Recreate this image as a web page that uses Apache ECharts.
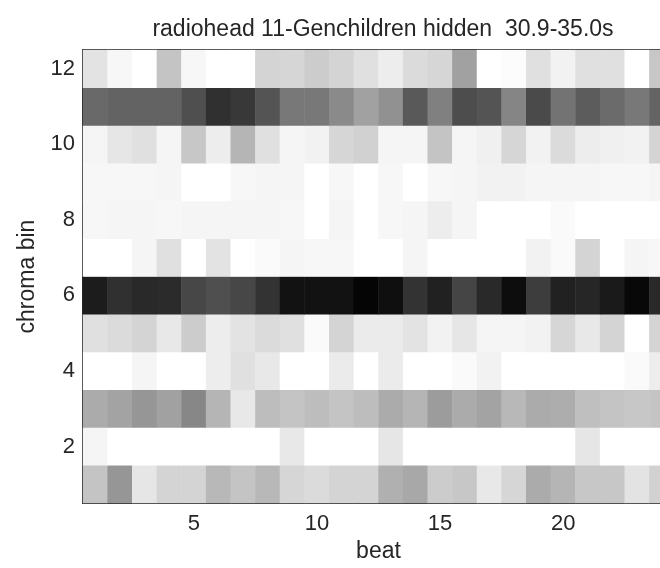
<!DOCTYPE html>
<html>
<head>
<meta charset="utf-8">
<script src="https://cdn.jsdelivr.net/npm/echarts@6/dist/echarts.min.js"></script>
<style>
  html, body { margin: 0; padding: 0; background: #ffffff; overflow: hidden; width: 660px; height: 568px; }
  /* the drawing surface is a little wider than the window, so the plot box runs off the right edge */
  #chart { width: 690px; height: 568px; }
</style>
</head>
<body>
<div id="chart"></div>
<script>
// Beat-synchronous chroma: 24 beats x 12 chroma bins, energy 0 (white) .. 1 (black)
const beats = Array.from({ length: 24 }, (_, i) => i + 1);
const bins = Array.from({ length: 12 }, (_, i) => i + 1);

const bin1  = [0.23,0.41,0.10,0.17,0.17,0.28,0.23,0.28,0.16,0.14,0.17,0.17,0.31,0.34,0.20,0.22,0.09,0.16,0.33,0.29,0.22,0.22,0.11,0.18];
const bin2  = [0.04,0,0,0,0,0,0,0,0.09,0,0,0,0.10,0,0,0,0,0,0,0,0.10,0,0,0];
const bin3  = [0.33,0.36,0.41,0.37,0.47,0.29,0.09,0.26,0.23,0.26,0.23,0.26,0.33,0.29,0.39,0.33,0.36,0.28,0.33,0.32,0.25,0.23,0.22,0.23];
const bin4  = [0,0,0.04,0,0,0.07,0.12,0.09,0,0,0.08,0,0.08,0,0,0.02,0.05,0,0,0,0,0,0.02,0.07];
const bin5  = [0.12,0.14,0.17,0.09,0.20,0.07,0.11,0.14,0.12,0.02,0.17,0.08,0.08,0.11,0.05,0.10,0.04,0.04,0.05,0.16,0.09,0.17,0,0.17];
const bin6  = [0.89,0.81,0.84,0.83,0.72,0.69,0.72,0.80,0.93,0.93,0.93,0.98,0.94,0.80,0.87,0.73,0.84,0.95,0.76,0.87,0.85,0.90,0.97,0.84];
const bin7  = [0,0,0.04,0.12,0,0.11,0,0.02,0.04,0.03,0.03,0,0,0.04,0,0,0,0,0.05,0.02,0.17,0,0.04,0.03];
const bin8  = [0.03,0.04,0.04,0.03,0.04,0.04,0.04,0.04,0.03,0,0.04,0,0.03,0.04,0.07,0.04,0,0,0,0.02,0,0,0,0];
const bin9  = [0.03,0.03,0.03,0.04,0,0,0.03,0.04,0.04,0,0.03,0,0.03,0,0.03,0.04,0.05,0.05,0.04,0.04,0.04,0.03,0.03,0.04];
const bin10 = [0.04,0.10,0.12,0.04,0.22,0.07,0.29,0.12,0.04,0.05,0.16,0.18,0.04,0.04,0.23,0.04,0.06,0.16,0.05,0.14,0.07,0.06,0.05,0.17];
const bin11 = [0.59,0.61,0.61,0.61,0.69,0.81,0.78,0.67,0.53,0.53,0.46,0.37,0.43,0.65,0.50,0.70,0.67,0.48,0.71,0.55,0.64,0.58,0.53,0.61];
const bin12 = [0.11,0.03,0,0.23,0.03,0,0,0.17,0.16,0.20,0.17,0.12,0.07,0.14,0.16,0.37,0,0.01,0.12,0.05,0.12,0.12,0,0.22];

const rows = [bin1, bin2, bin3, bin4, bin5, bin6, bin7, bin8, bin9, bin10, bin11, bin12];

const xTicks = [5, 10, 15, 20];
const yTicks = [2, 4, 6, 8, 10, 12];

const cells = [];
rows.forEach((row, yi) => row.forEach((v, xi) => cells.push([xi, yi, v])));

const ink = '#262626';
const font = 'Liberation Sans, Arial, Helvetica, sans-serif';
const tickSize = 22;
const textSize = 23;
const showX = (i, v) => xTicks.includes(Number(v));
const showY = (i, v) => yTicks.includes(Number(v));

const chart = echarts.init(document.getElementById('chart'), null, { renderer: 'canvas' });
chart.setOption({
  animation: false,
  backgroundColor: '#ffffff',
  textStyle: { fontFamily: font, color: ink },
  title: {
    text: 'radiohead 11-Genchildren hidden  30.9-35.0s',
    left: 378, top: 13, textAlign: 'center',
    textStyle: { fontFamily: font, fontSize: textSize, fontWeight: 'normal', color: ink }
  },
  grid: { left: 83, top: 50, width: 591, height: 460, containLabel: false },
  visualMap: {
    show: false, type: 'continuous', min: 0, max: 1, dimension: 2,
    inRange: { color: ['#ffffff', '#000000'] }
  },
  xAxis: [{
    type: 'category', data: beats, position: 'bottom', boundaryGap: true,
    name: 'beat', nameLocation: 'middle', nameGap: 35,
    nameTextStyle: { fontFamily: font, fontSize: textSize, color: ink },
    axisLine: { show: true, lineStyle: { color: ink, width: 2 } },
    axisTick: { show: true, inside: true, alignWithLabel: true, interval: showX, length: 5, lineStyle: { color: ink } },
    axisLabel: { interval: showX, margin: 10, fontFamily: font, fontSize: tickSize, color: ink },
    splitLine: { show: false }
  }, {
    type: 'category', data: beats, position: 'top', boundaryGap: true,
    axisLine: { show: true, lineStyle: { color: ink, width: 2 } },
    axisTick: { show: true, inside: true, alignWithLabel: true, interval: showX, length: 5, lineStyle: { color: ink } },
    axisLabel: { show: false },
    splitLine: { show: false }
  }],
  yAxis: [{
    type: 'category', data: bins, position: 'left', boundaryGap: true,
    name: 'chroma bin', nameLocation: 'middle', nameGap: 42, nameRotate: 90,
    nameTextStyle: { fontFamily: font, fontSize: textSize, color: ink },
    axisLine: { show: true, lineStyle: { color: ink, width: 2 } },
    axisTick: { show: true, inside: true, alignWithLabel: true, interval: showY, length: 5, lineStyle: { color: ink } },
    axisLabel: { interval: showY, margin: 8, fontFamily: font, fontSize: tickSize, color: ink },
    splitLine: { show: false }
  }, {
    type: 'category', data: bins, position: 'right', boundaryGap: true,
    axisLine: { show: true, lineStyle: { color: ink, width: 2 } },
    axisTick: { show: false },
    axisLabel: { show: false },
    splitLine: { show: false }
  }],
  series: [{
    type: 'heatmap',
    xAxisIndex: 0, yAxisIndex: 0,
    data: cells,
    itemStyle: { borderWidth: 0 },
    emphasis: { disabled: true }
  }]
});
</script>
</body>
</html>
